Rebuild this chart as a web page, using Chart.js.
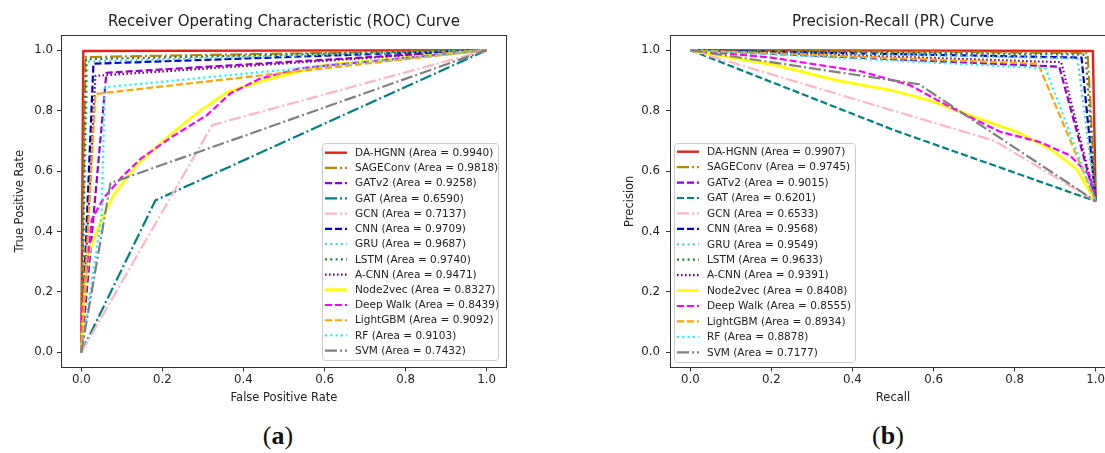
<!DOCTYPE html>
<html><head><meta charset="utf-8">
<script src="https://cdn.jsdelivr.net/npm/chart.js@4.4.1/dist/chart.umd.min.js"></script>
<style>
html,body{margin:0;padding:0;background:#fff;overflow:hidden;width:1105px;height:453px;position:relative;}
#c1{position:absolute;left:0;top:0;}
#c2{position:absolute;left:560px;top:0;}
.cap{position:absolute;top:421px;font-family:"Liberation Serif","DejaVu Serif",serif;font-size:26px;color:#111;width:80px;text-align:center;line-height:30px;}
</style></head><body>
<canvas id="c1" width="560" height="410"></canvas>
<canvas id="c2" width="560" height="410"></canvas>
<div class="cap" style="left:238px">(<b>a</b>)</div>
<div class="cap" style="left:848px">(<b>b</b>)</div>
<script>
// ---------- data ----------
const modelNames = ['DA-HGNN','SAGEConv','GATv2','GAT','GCN','CNN','GRU','LSTM','A-CNN','Node2vec','Deep Walk','LightGBM','RF','SVM'];
const rocAreas = [0.9940,0.9818,0.9258,0.6590,0.7137,0.9709,0.9687,0.9740,0.9471,0.8327,0.8439,0.9092,0.9103,0.7432];
const prAreas  = [0.9907,0.9745,0.9015,0.6201,0.6533,0.9568,0.9549,0.9633,0.9391,0.8408,0.8555,0.8934,0.8878,0.7177];
const tickValues = [0.0,0.2,0.4,0.6,0.8,1.0];

// ROC points [False Positive Rate, True Positive Rate]
const rocDAHGNN   = [[0,0],[0.005,0.997],[1,1]];
const rocSAGEConv = [[0,0],[0.01,0.977],[1,1]];
const rocGATv2    = [[0,0],[0.062,0.925],[1,1]];
const rocGAT      = [[0,0],[0.183,0.503],[1,1]];
const rocGCN      = [[0,0],[0.323,0.752],[1,1]];
const rocCNN      = [[0,0],[0.03,0.955],[1,1]];
const rocGRU      = [[0,0],[0.015,0.962],[1,1]];
const rocLSTM     = [[0,0],[0.012,0.97],[1,1]];
const rocACNN     = [[0,0],[0.035,0.915],[1,1]];
const rocNode2vec = [[0,0],[0.005,0.15],[0.018,0.33],[0.047,0.43],[0.08,0.52],[0.137,0.62],[0.228,0.73],[0.294,0.8],[0.36,0.86],[0.45,0.9],[0.6,0.95],[1,1]];
const rocDeepWalk = [[0,0],[0.002,0.13],[0.026,0.44],[0.055,0.51],[0.1,0.58],[0.146,0.64],[0.22,0.71],[0.31,0.785],[0.368,0.857],[0.44,0.905],[0.54,0.94],[1,1]];
const rocLightGBM = [[0,0],[0.035,0.855],[1,1]];
const rocRF       = [[0,0],[0.05,0.45],[0.058,0.877],[1,1]];
const rocSVM      = [[0,0],[0.072,0.56],[1,1]];

// PR points [Recall, Precision]
const prDAHGNN   = [[0,1],[0.993,0.997],[1,0.5]];
const prSAGEConv = [[0,1],[0.98,0.99],[1,0.5]];
const prGATv2    = [[0,1],[0.91,0.945],[1,0.5]];
const prGAT      = [[0,1],[0.503,0.735],[1,0.5]];
const prGCN      = [[0,1],[0.75,0.70],[1,0.5]];
const prCNN      = [[0,1],[0.965,0.975],[1,0.5]];
const prGRU      = [[0,1],[0.955,0.972],[1,0.5]];
const prLSTM     = [[0,1],[0.975,0.985],[1,0.5]];
const prACNN     = [[0,1],[0.915,0.96],[1,0.5]];
const prNode2vec = [[0,1],[0.1,0.975],[0.21,0.95],[0.361,0.9],[0.493,0.868],[0.59,0.834],[0.698,0.78],[0.805,0.73],[0.887,0.674],[0.952,0.608],[1,0.5]];
const prDeepWalk = [[0,1],[0.2,0.975],[0.42,0.93],[0.542,0.884],[0.632,0.818],[0.706,0.768],[0.764,0.73],[0.862,0.696],[0.936,0.652],[0.985,0.586],[1,0.5]];
const prLightGBM = [[0,1],[0.858,0.955],[1,0.5]];
const prRF       = [[0,1],[0.876,0.94],[1,0.5]];
const prSVM      = [[0,1],[0.564,0.887],[1,0.5]];

const rocSeries = [rocDAHGNN,rocSAGEConv,rocGATv2,rocGAT,rocGCN,rocCNN,rocGRU,rocLSTM,rocACNN,rocNode2vec,rocDeepWalk,rocLightGBM,rocRF,rocSVM];
const prSeries  = [prDAHGNN,prSAGEConv,prGATv2,prGAT,prGCN,prCNN,prGRU,prLSTM,prACNN,prNode2vec,prDeepWalk,prLightGBM,prRF,prSVM];

// ---------- styles ----------
const colors = ['#e3201b','#b8860b','#9400d3','#008080','#ffb6c1','#0000cd','#48d1cc','#2e7d32','#800080','#ffff00','#ff00ff','#ffa500','#00ffff','#808080'];
const widths = [2.4,2.2,2.2,2.2,2.2,2.2,2.2,2.2,2.2,2.8,2.2,2.2,2.2,2.2];
const rocStyles = ['solid','dashdot','dashed','dashdot','dashdot','dashed','dotted','dotted','dotted2','solid','dashed','dashed','dotted','dashdot'];
const prStyles  = ['solid','dashdot','dashed','dashed','dashdot','dashed','dotted','dotted','dotted2','solid','dashed','dashed','dotted','dashdot'];
const dashMap = {solid:[], dashed:[7,3], dashdot:[12,3,2,3], dotted:[2,3.3], dotted2:[1.6,2.4]};
const FONT = 'DejaVu Sans';
const TXT = '#222';

const framePlugin = {
  id:'frameLegend',
  afterDatasetsDraw(chart, args, opts){
    const ctx = chart.ctx, a = chart.chartArea;
    ctx.save();
    ctx.strokeStyle = '#333'; ctx.lineWidth = 1; ctx.setLineDash([]);
    ctx.strokeRect(Math.round(a.left)+0.5, Math.round(a.top)+0.5, Math.round(a.right-a.left)-1, Math.round(a.bottom-a.top)-1);
    // legend
    const L = opts.box;
    ctx.globalAlpha = 0.8; ctx.fillStyle = '#fff';
    ctx.beginPath();
    ctx.roundRect(L.x+0.5, L.y+0.5, L.w, L.h, 3);
    ctx.fill();
    ctx.globalAlpha = 1; ctx.strokeStyle = '#cccccc'; ctx.stroke();
    ctx.font = '10.5px "' + FONT + '"';
    ctx.textBaseline = 'middle'; ctx.textAlign = 'left';
    chart.data.datasets.forEach((ds, i) => {
      const y = L.row0 + i * L.step;
      ctx.beginPath();
      ctx.setLineDash(ds.borderDash || []);
      ctx.lineWidth = ds.borderWidth; ctx.strokeStyle = ds.borderColor; ctx.lineCap = 'butt';
      ctx.moveTo(L.x + 3, y); ctx.lineTo(L.x + 25, y); ctx.stroke();
      ctx.setLineDash([]);
      ctx.fillStyle = TXT;
      ctx.fillText(ds.label, L.x + 33, y + 0.5);
    });
    ctx.restore();
  }
};

function makeChart(id, series, styles, areas, c){
  const datasets = series.map((pts, i) => ({
    label: modelNames[i] + ' (Area = ' + areas[i].toFixed(4) + ')',
    data: pts.map(p => ({x:p[0], y:p[1]})),
    borderColor: colors[i], backgroundColor: colors[i],
    borderWidth: widths[i], borderDash: dashMap[styles[i]],
    borderCapStyle:'butt', borderJoinStyle:'round',
    pointRadius:0, pointHoverRadius:0, fill:false, tension:0, order:-i
  }));
  const tickFont = {family:FONT, size:11.8};
  const labelFont = {family:FONT, size:11.5};
  return new Chart(document.getElementById(id), {
    type:'line',
    data:{datasets},
    plugins:[framePlugin],
    options:{
      responsive:false, animation:false, devicePixelRatio:1,
      layout:{padding:{left:0, right:c.padRight, top:0, bottom:0}},
      plugins:{
        legend:{display:false}, tooltip:{enabled:false},
        title:{display:true, fullSize:false, text:c.title, color:TXT, font:{family:FONT, size:15, weight:'normal'}, padding:{top:13, bottom:4}},
        frameLegend:{box:c.box}
      },
      scales:{
        x:{type:'linear', min:-0.05, max:1.05,
           afterBuildTicks: s => { s.ticks = tickValues.map(v => ({value:v})); },
           afterFit: s => { s.height = 42.5; },
           ticks:{callback: v => Number(v).toFixed(1), font:tickFont, color:TXT, padding:1, maxRotation:0, autoSkip:false},
           grid:{display:true, drawOnChartArea:false, drawTicks:true, tickLength:4, tickColor:'#333', tickWidth:1},
           border:{display:false},
           title:{display:true, text:c.xTitle, color:TXT, font:labelFont, padding:{top:0, bottom:5}}},
        y:{type:'linear', min:-0.05, max:1.05,
           afterBuildTicks: s => { s.ticks = tickValues.map(v => ({value:v})); },
           afterFit: s => { s.width = c.yWidth; },
           ticks:{callback: v => Number(v).toFixed(1), font:tickFont, color:TXT, padding:c.yTickPad, autoSkip:false},
           grid:{display:true, drawOnChartArea:false, drawTicks:true, tickLength:4, tickColor:'#333', tickWidth:1},
           border:{display:false},
           title:{display:true, text:c.yTitle, color:TXT, font:labelFont, padding:{top:c.yTitlePad, bottom:0}}}
      }
    }
  });
}

makeChart('c1', rocSeries, rocStyles, rocAreas, {
  title:'Receiver Operating Characteristic (ROC) Curve', xTitle:'False Positive Rate', yTitle:'True Positive Rate',
  padRight:53, yWidth:61, yTickPad:4, yTitlePad:13,
  box:{x:322, y:143, w:176, h:217, row0:152.7, step:15.23}
});
makeChart('c2', prSeries, prStyles, prAreas, {
  title:'Precision-Recall (PR) Curve', xTitle:'Recall', yTitle:'Precision',
  padRight:4, yWidth:110, yTickPad:6, yTitlePad:63,
  box:{x:114, y:143, w:181, h:219, row0:151.7, step:15.43}
});
</script>
</body></html>
